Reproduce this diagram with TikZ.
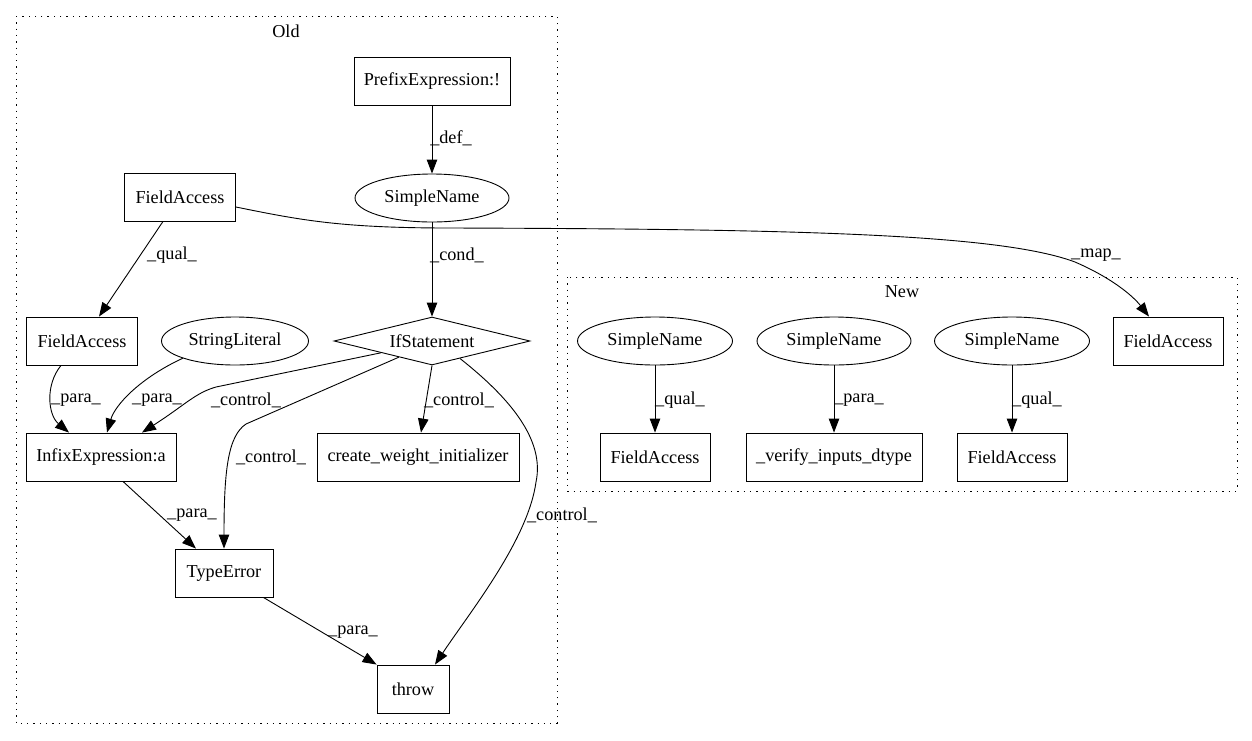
\documentclass[tikz,border=0pt]{standalone}
\usepackage{fontspec}
\setmainfont{Liberation Serif}
\usetikzlibrary{shapes.geometric,arrows.meta}
\tikzset{
  every node/.style={font=\fontsize{18.2}{22}\selectfont},
  boxnode/.style={draw, line width=0.9pt, rectangle, minimum height=48pt, inner sep=0pt},
  ellnode/.style={draw, line width=0.9pt, ellipse, minimum height=48pt, inner sep=0pt},
  dianode/.style={draw, line width=0.9pt, diamond, aspect=4, minimum width=196pt, minimum height=48pt, inner sep=0pt},
  edge/.style={draw, line width=0.9pt, -{Triangle[length=14pt,width=10.5pt]}},
  lbl/.style={inner sep=0pt},
  cluster/.style={draw, line width=1pt, dash pattern=on 1.3pt off 5pt},
}
\begin{document}
\begin{tikzpicture}[x=1pt,y=-1pt]
\useasboundingbox (0,0) rectangle (1252,740);
% clusters
\draw[cluster] (16,16) rectangle (557,723);
\draw[cluster] (567,277) rectangle (1237,491);
\node[lbl] (oldlbl) at (286,31) {Old};
\node[lbl] (newlbl) at (902,292) {New};
% Old nodes
\node[boxnode, minimum width=156pt] (pre) at (432,81) {PrefixExpression:!};
\node[ellnode, minimum width=154pt] (sn) at (432,198) {SimpleName};
\node[boxnode, minimum width=111pt] (faTop) at (180,197) {FieldAccess};
\node[boxnode, minimum width=111pt] (faLeft) at (82,341) {FieldAccess};
\node[ellnode, minimum width=147pt] (sl) at (235,341) {StringLiteral};
\node[dianode] (ifs) at (432,341) {IfStatement};
\node[boxnode, minimum width=150pt] (infix) at (101,457) {InfixExpression:a};
\node[boxnode, minimum width=202pt] (cwi) at (418,457) {create\_weight\_initializer};
\node[boxnode, minimum width=98pt] (te) at (224,573) {TypeError};
\node[boxnode, minimum width=72pt] (thr) at (413,689) {throw};
% New nodes
\node[ellnode, minimum width=155pt] (sn1) at (655,341) {SimpleName};
\node[boxnode, minimum width=110pt] (fa1) at (655,457) {FieldAccess};
\node[ellnode, minimum width=154pt] (sn2) at (834,341) {SimpleName};
\node[boxnode, minimum width=176pt] (vid) at (834,457) {\_verify\_inputs\_dtype};
\node[ellnode, minimum width=155pt] (sn3) at (1012,341) {SimpleName};
\node[boxnode, minimum width=110pt] (fa3) at (1012,457) {FieldAccess};
\node[boxnode, minimum width=110pt] (faR) at (1168,341) {FieldAccess};
% edges
\draw[edge] (pre.south) -- (sn.north);
\node[lbl] (l1) at (451,138) {\_def\_};
\draw[edge] (sn.south) -- (ifs.north);
\node[lbl] (l2) at (457,255) {\_cond\_};
\draw[edge] ([xshift=-17pt]faTop.south) -- ([xshift=17pt]faLeft.north);
\node[lbl] (l3) at (172,255) {\_qual\_};
\draw[edge] ([yshift=-10pt]faTop.east) .. controls (300,220) and (340,228) .. (450,228)
   .. controls (800,229) and (1000,234) .. (1075,262)
   .. controls (1112,278) and (1133,296) .. ([xshift=-19pt]faR.north);
\node[lbl] (l4) at (1096,255) {\_map\_};
\draw[edge] ([xshift=-21pt]faLeft.south) .. controls (45,385) and (48,415) .. ([xshift=-32pt]infix.north);
\node[lbl] (l5) at (76,400) {\_para\_};
\draw[edge] (sl.south west) .. controls (140,378) and (115,405) .. ([xshift=6pt]infix.north);
\node[lbl] (l6) at (157,400) {\_para\_};
\draw[edge] (ifs.193) -- (216,387) .. controls (195,393) and (185,405) .. ([xshift=41pt]infix.north);
\node[lbl] (l7) at (246,400) {\_control\_};
\draw[edge] (ifs.206) -- (246,424) .. controls (228,436) and (224,470) .. (te.north);
\node[lbl] (l8) at (271,457) {\_control\_};
\draw[edge] (ifs.south) -- ([xshift=3pt]cwi.north);
\node[lbl] (l9) at (459,400) {\_control\_};
\draw[edge] (ifs.328) .. controls (510,398) and (545,440) .. (536,482)
   .. controls (528,540) and (470,612) .. ([xshift=22pt]thr.north);
\node[lbl] (l10) at (562,515) {\_control\_};
\draw[edge] ([xshift=22pt]infix.south) -- ([xshift=-28pt]te.north);
\node[lbl] (l11) at (192,515) {\_para\_};
\draw[edge] ([xshift=-10pt]te.south east) -- (thr.north west);
\node[lbl] (l12) at (353,632) {\_para\_};
\draw[edge] (sn1.south) -- (fa1.north);
\node[lbl] (l13) at (680,400) {\_qual\_};
\draw[edge] (sn2.south) -- (vid.north);
\node[lbl] (l14) at (859,400) {\_para\_};
\draw[edge] (sn3.south) -- (fa3.north);
\node[lbl] (l15) at (1037,400) {\_qual\_};
\end{tikzpicture}
\end{document}
